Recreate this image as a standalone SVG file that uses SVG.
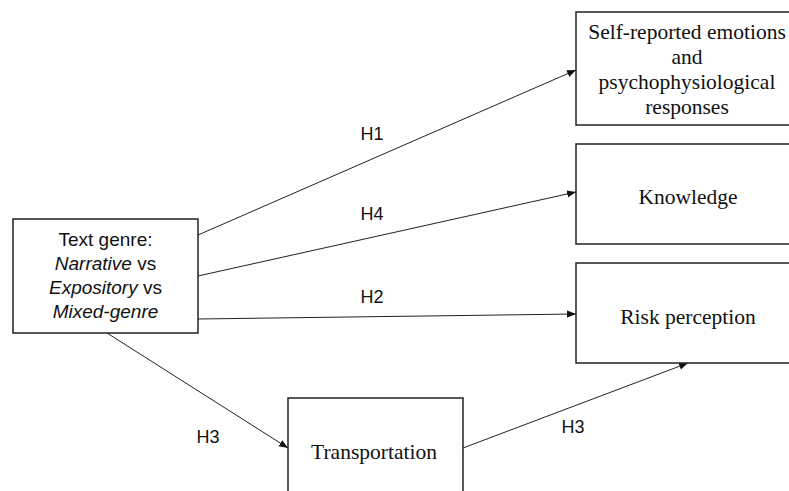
<svg xmlns="http://www.w3.org/2000/svg" width="789" height="491" viewBox="0 0 789 491">
<style>
.box{fill:#fff;stroke:#222;stroke-width:1.5}
.serif{font-family:"Liberation Serif","Times New Roman",serif;font-size:21.5px;fill:#111;text-anchor:middle}
.sans{font-family:"Liberation Sans",Arial,sans-serif;font-size:18px;fill:#111;text-anchor:middle}
.gen{font-size:19px}
.conn{stroke:#222;stroke-width:1;fill:none;marker-end:url(#arr)}
</style>
<defs>
<marker id="arr" viewBox="0 0 10 10" refX="10" refY="5" markerWidth="9" markerHeight="9" markerUnits="userSpaceOnUse" orient="auto">
<path d="M0,1 L10,5 L0,9 Z" fill="#111"/>
</marker>
</defs>
<rect width="789" height="491" fill="#fff"/>
<g id="connectors">
<line class="conn" x1="198" y1="235" x2="576" y2="70"/>
<line class="conn" x1="198" y1="276" x2="576" y2="192"/>
<line class="conn" x1="198" y1="319" x2="576" y2="314"/>
<line class="conn" x1="107" y1="333" x2="288" y2="448"/>
<line class="conn" x1="463" y1="448" x2="688" y2="363"/>
<text class="sans" x="372" y="140">H1</text>
<text class="sans" x="372" y="220">H4</text>
<text class="sans" x="372" y="303">H2</text>
<text class="sans" x="208" y="443">H3</text>
<text class="sans" x="573" y="433">H3</text>
</g>
<g id="text-genre">
<rect class="box" x="13" y="219" width="185" height="114"/>
<text class="sans gen" x="105.5" y="246">Text genre:</text>
<text class="sans gen" x="105.5" y="270"><tspan font-style="italic">Narrative</tspan> vs</text>
<text class="sans gen" x="105.5" y="294"><tspan font-style="italic">Expository</tspan> vs</text>
<text class="sans gen" x="105.5" y="318" font-style="italic">Mixed-genre</text>
</g>
<g id="emotions">
<rect class="box" x="576" y="12" width="230" height="113"/>
<text class="serif" x="687" y="39">Self-reported emotions</text>
<text class="serif" x="687" y="64">and</text>
<text class="serif" x="687" y="89">psychophysiological</text>
<text class="serif" x="687" y="114">responses</text>
</g>
<g id="knowledge">
<rect class="box" x="576" y="144" width="230" height="100"/>
<text class="serif" x="688" y="204">Knowledge</text>
</g>
<g id="risk">
<rect class="box" x="576" y="263" width="230" height="100"/>
<text class="serif" x="688" y="324">Risk perception</text>
</g>
<g id="transportation">
<rect class="box" x="288" y="398" width="175" height="110"/>
<text class="serif" x="374" y="459">Transportation</text>
</g>
</svg>
